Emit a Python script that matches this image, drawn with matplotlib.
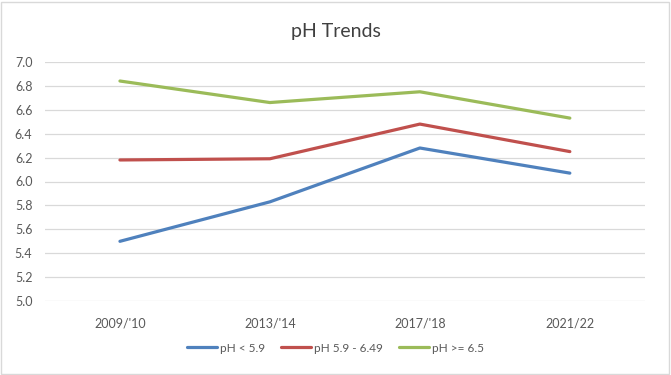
import matplotlib.pyplot as plt
from matplotlib.patches import Rectangle

# Data
periods = ["2009/'10", "2013/'14", "2017/'18", "2021/22"]
ph_low = [5.50, 5.83, 6.28, 6.07]
ph_mid = [6.18, 6.19, 6.48, 6.25]
ph_high = [6.84, 6.66, 6.75, 6.53]
series_labels = ['pH < 5.9', 'pH 5.9 - 6.49', 'pH >= 6.5']

plt.rcParams['font.family'] = ['Lato', 'DejaVu Sans']

fig = plt.figure(figsize=(6.71, 3.75), dpi=100)
ax = fig.add_axes([0.067, 0.197, 0.894, 0.638])

x = range(len(periods))
colors = ['#4F81BD', '#C0504D', '#9BBB59']
for vals, lab, col in zip([ph_low, ph_mid, ph_high], series_labels, colors):
    ax.plot(x, vals, color=col, lw=2.3, label=lab, solid_capstyle='round')

ax.set_xlim(-0.5, len(periods) - 0.5)
ax.set_ylim(5.0, 7.0)
ax.set_yticks([5.0 + 0.2 * i for i in range(11)])
ax.yaxis.set_major_formatter(plt.FormatStrFormatter('%.1f'))
ax.set_xticks(list(x))
ax.set_xticklabels(periods)

ax.grid(axis='y', color='#D9D9D9', lw=0.9)
ax.set_axisbelow(True)
for s in ax.spines.values():
    s.set_visible(False)
ax.tick_params(length=0, colors='#595959', labelsize=9)
ax.tick_params(axis='y', pad=9)
ax.tick_params(axis='x', pad=12)

fig.text(0.5, 0.915, 'pH Trends', ha='center', va='center', fontsize=14, color='#404040')

fig.legend(loc='center', bbox_to_anchor=(0.5, 0.072), ncol=3, frameon=False,
           fontsize=8.5, handlelength=2.5, columnspacing=1.4, handletextpad=0.25,
           labelcolor='#595959')

# chart border
fig.patches.append(Rectangle((0.002, 0.003), 0.995, 0.993, transform=fig.transFigure,
                             fill=False, edgecolor='#D9D9D9', lw=1))

fig.savefig('out.png', dpi=100)
